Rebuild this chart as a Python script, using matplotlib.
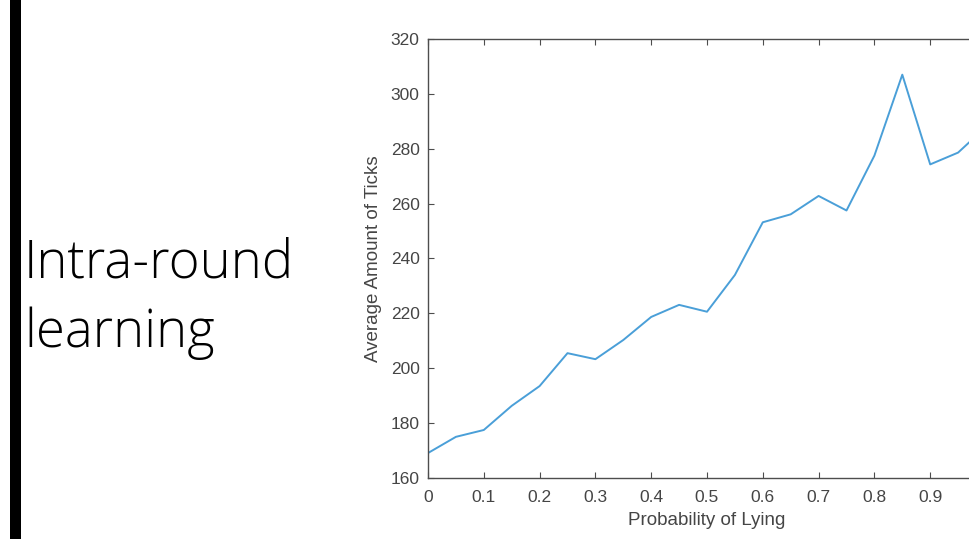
import matplotlib
matplotlib.use("Agg")
import matplotlib.pyplot as plt
from matplotlib.patches import Rectangle

# Data
prob_lying = [0.0, 0.05, 0.1, 0.15, 0.2, 0.25, 0.3, 0.35, 0.4, 0.45, 0.5,
              0.55, 0.6, 0.65, 0.7, 0.75, 0.8, 0.85, 0.9, 0.95, 1.0]
avg_ticks = [169.1, 175.0, 177.5, 186.3, 193.5, 205.5, 203.3, 210.3, 218.7, 223.1, 220.6,
             234.0, 253.2, 256.1, 262.8, 257.5, 277.5, 307.0, 274.3, 278.6, 288.0]
x_ticks = [0, 0.1, 0.2, 0.3, 0.4, 0.5, 0.6, 0.7, 0.8, 0.9]
x_tick_labels = ["0", "0.1", "0.2", "0.3", "0.4", "0.5", "0.6", "0.7", "0.8", "0.9"]
y_ticks = [160, 180, 200, 220, 240, 260, 280, 300, 320]
slide_title = ["Intra-round", "learning"]

W, H = 970, 539
fig = plt.figure(figsize=(W / 100, H / 100), dpi=100)
fig.patch.set_facecolor("white")

# Black vertical bar on the left of the slide
fig.patches.append(Rectangle((10 / W, 0), 11 / W, 1, transform=fig.transFigure,
                             facecolor="black", edgecolor="none"))

# Slide title text
title_font = dict(family=["Open Sans", "DejaVu Sans"], fontweight="light",
                  fontsize=38, color="black")
fig.text(24 / W, 1 - 277 / H, slide_title[0], ha="left", va="baseline", **title_font)
fig.text(24 / W, 1 - 347 / H, slide_title[1], ha="left", va="baseline", **title_font)

# Axes (extends past the right edge, as in the cropped reference)
left, right, top, bottom = 428, 986, 39, 478
ax = fig.add_axes([left / W, 1 - bottom / H, (right - left) / W, (bottom - top) / H])

line_color = "#4a9fd8"
ax.plot(prob_lying, avg_ticks, color=line_color, lw=1.4)

ax.set_xlim(0, 1)
ax.set_ylim(160, 320)
ax.set_xticks(x_ticks)
ax.set_xticklabels(x_tick_labels)
ax.set_yticks(y_ticks)

spine_color = "#4d4d4d"
text_color = "#454545"
for s in ax.spines.values():
    s.set_color(spine_color)
    s.set_linewidth(1.0)

label_font = ["Liberation Sans", "DejaVu Sans"]
ax.tick_params(axis="both", direction="in", length=4, width=0.8, color=spine_color,
               labelcolor=text_color, labelsize=12.5, top=True, right=True)
ax.tick_params(axis="x", pad=9)
ax.tick_params(axis="y", pad=6)
for lab in ax.get_xticklabels() + ax.get_yticklabels():
    lab.set_family(label_font)

ax.set_xlabel("Probability of Lying", fontsize=13.5, color=text_color,
              family=label_font, labelpad=5)
ax.set_ylabel("Average Amount of Ticks", fontsize=13.5, color=text_color,
              family=label_font, labelpad=6)

fig.savefig("out.png", dpi=100, facecolor="white")
